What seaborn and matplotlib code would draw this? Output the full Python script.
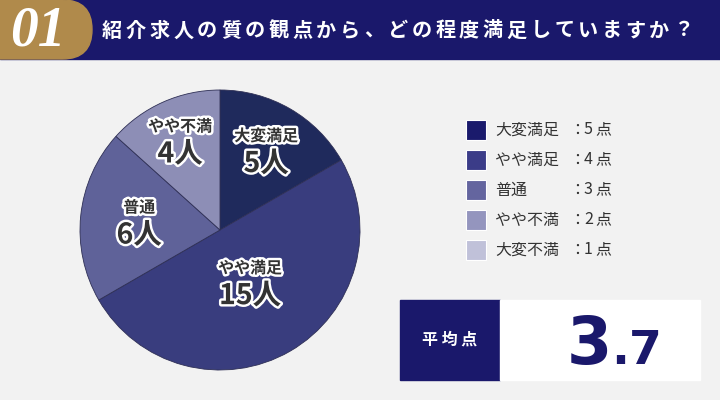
import numpy as np
import seaborn as sns
import matplotlib.pyplot as plt
import matplotlib.patheffects as pe
from matplotlib.patches import Rectangle, FancyBboxPatch

# data
categories = ['大変満足', 'やや満足', '普通', 'やや不満', '大変不満']
scores = [5, 4, 3, 2, 1]
counts = [5, 15, 6, 4, 0]
title = '紹介求人の質の観点から、どの程度満足していますか？'

pie_colors = ['#1f2a5c', '#393d7e', '#5f6299', '#8d8eb6', '#bcbdd6']
legend_colors = ['#1a1a6c', '#3b3c88', '#64659f', '#9495be', '#c0c1d9']
navy = '#1a186b'
gold = '#b08a4b'

sns.set_theme(style='white')
plt.rcParams['font.family'] = ['Noto Sans CJK JP', 'DejaVu Sans']

fig = plt.figure(figsize=(7.2, 4.0), dpi=100)
fig.patch.set_facecolor('#f2f2f2')

# background layer in pixel coordinates
bg = fig.add_axes([0, 0, 1, 1])
bg.set_xlim(0, 720)
bg.set_ylim(400, 0)
bg.axis('off')

# header
bg.add_patch(Rectangle((0, 0), 720, 59, color=navy, zorder=1))
bg.add_patch(FancyBboxPatch((-60, 0), 152, 59, boxstyle='round,pad=0,rounding_size=29.5',
                            color=gold, zorder=2))
bg.text(38, 32, '01', color='white', fontsize=40, fontweight='bold', style='italic',
        family='Liberation Serif', ha='center', va='center', zorder=3)
# title with letter spacing (one glyph at a time)
for i, ch in enumerate(title):
    bg.text(112 + i * 23.8, 30, ch, color='white', fontsize=14.5, fontweight='bold',
            ha='center', va='center', zorder=3)

# pie
ax = fig.add_axes([80 / 720, 30 / 400, 280 / 720, 280 / 400])
pos = [c > 0 for c in counts]
vals = [c for c in counts if c > 0]
cols = [pie_colors[i] for i, p in enumerate(pos) if p]
names = [categories[i] for i, p in enumerate(pos) if p]
wedges, _ = ax.pie(vals, colors=cols, startangle=90, counterclock=False, radius=1,
                   wedgeprops=dict(edgecolor='#2e2f55', linewidth=0.6))
ax.set_xlim(-1, 1)
ax.set_ylim(-1, 1)
ax.set_aspect('equal')

label_r = [0.66, 0.43, 0.58, 0.70]
stroke = [pe.withStroke(linewidth=3.5, foreground='white')]
for w, name, n, r in zip(wedges, names, vals, label_r):
    ang = np.deg2rad((w.theta1 + w.theta2) / 2)
    x, y = r * np.cos(ang), r * np.sin(ang)
    ax.text(x, y + 0.1, name, ha='center', va='center', fontsize=11.5, fontweight='bold',
            color='#333333', path_effects=stroke)
    ax.text(x, y - 0.1, f'{n}人', ha='center', va='center', fontsize=20.5, fontweight='bold',
            color='#333333', path_effects=stroke)

# legend
for i, (cat, sc, col) in enumerate(zip(categories, scores, legend_colors)):
    yc = 130 + i * 30
    bg.add_patch(Rectangle((466, yc - 10), 20, 20, facecolor=col, edgecolor='white',
                           linewidth=0.8, zorder=2))
    bg.text(495, yc, cat, fontsize=11.5, color='#333333', ha='left', va='center')
    bg.text(569, yc, '：', fontsize=11.5, color='#333333', ha='left', va='center')
    bg.text(584, yc, f'{sc}', fontsize=11.5, color='#333333', ha='left', va='center')
    bg.text(595, yc, '点', fontsize=11.5, color='#333333', ha='left', va='center')

# average box
avg = sum(c * s for c, s in zip(counts, scores)) / sum(counts)
whole, frac = f'{avg:.1f}'.split('.')
bg.add_patch(Rectangle((400, 300), 100, 80, color=navy, zorder=1))
bg.add_patch(Rectangle((500, 300), 200, 80, color='white', zorder=1))
bg.text(450, 340, '平 均 点', color='white', fontsize=11.5, fontweight='bold',
        ha='center', va='center', zorder=2)
bg.text(612, 364, whole, color=navy, fontsize=47, fontweight='bold', family='DejaVu Sans',
        ha='right', va='baseline', zorder=2)
bg.text(611, 364, '.' + frac, color=navy, fontsize=34, fontweight='bold', family='DejaVu Sans',
        ha='left', va='baseline', zorder=2)

fig.savefig('out.png', dpi=100, facecolor=fig.get_facecolor())
